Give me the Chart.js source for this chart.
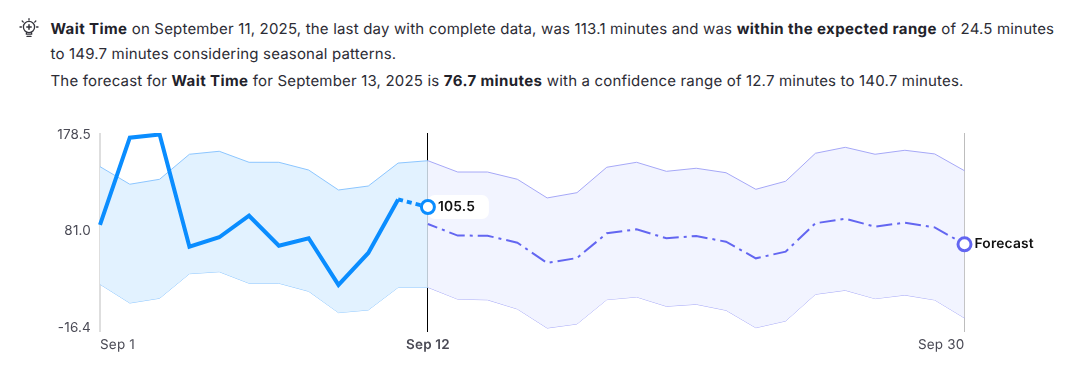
<!DOCTYPE html>
<html>
<head>
<meta charset="utf-8">
<script src="https://cdn.jsdelivr.net/npm/chart.js@4/dist/chart.umd.min.js"></script>
<style>
  html, body { margin: 0; padding: 0; background: #fff; width: 1083px; height: 384px; overflow: hidden; }
  body { position: relative; font-family: Inter, sans-serif; color: #2c2c35; font-size: 15px; letter-spacing: 0.18px; text-rendering: geometricPrecision; }
  b { font-weight: 700; color: #22222a; letter-spacing: 0.4px; }
  .line { position: absolute; left: 50.5px; white-space: nowrap; line-height: 20px; }
  #icon { position: absolute; left: 19px; top: 17px; }
  #chart { position: absolute; left: 0; top: 120px; }
</style>
</head>
<body>
<svg id="icon" width="20" height="22" viewBox="0 0 20 22" fill="none" stroke="#33333b" stroke-width="1.3" stroke-linecap="round">
  <circle cx="10" cy="10" r="5.6"/>
  <path d="M10 7.8v4.4M7.8 10h4.4" stroke-width="1.5"/>
  <path d="M10 1.6v1.4M3.2 4l1.1 1.1M16.8 4l-1.1 1.1M1 10h1.4M17.6 10H19"/>
  <path d="M7.4 15.6v1.6h5.2v-1.6M8 19.4h4"/>
</svg>
<div class="line" style="top:19px"><b>Wait Time</b> on September 11, 2025, the last day with complete data, was 113.1 minutes and was <b>within the expected range</b> of 24.5 minutes</div>
<div class="line" style="top:44px">to 149.7 minutes considering seasonal patterns.</div>
<div class="line" style="top:71px">The forecast for <b>Wait Time</b> for September 13, 2025 is <b>76.7 minutes</b> with a confidence range of 12.7 minutes to 140.7 minutes.</div>
<canvas id="chart" width="1083" height="250"></canvas>
<script>
const days = ['Sep 1','Sep 2','Sep 3','Sep 4','Sep 5','Sep 6','Sep 7','Sep 8','Sep 9','Sep 10',
  'Sep 11','Sep 12','Sep 13','Sep 14','Sep 15','Sep 16','Sep 17','Sep 18','Sep 19','Sep 20',
  'Sep 21','Sep 22','Sep 23','Sep 24','Sep 25','Sep 26','Sep 27','Sep 28','Sep 29','Sep 30']
const yTicks = [178.5, 81.0, -16.4]

const n = null
const actual = [87.4,175.3,178.5,65.5,75,96.7,66.5,74,27,59.2,113.1,105.5,
  n,n,n,n,n,n,n,n,n,n,n,n,n,n,n,n,n,n]
const actualUpper = [146.1,128.4,133.4,158.6,161.6,150.5,150.5,142.7,122.6,126.6,149.7,152.1,
  n,n,n,n,n,n,n,n,n,n,n,n,n,n,n,n,n,n]
const actualLower = [27.7,8.8,13.6,38.3,40.3,28.7,28.7,20.6,-0.9,1.8,24.5,24.5,
  n,n,n,n,n,n,n,n,n,n,n,n,n,n,n,n,n,n]
const forecast = [n,n,n,n,n,n,n,n,n,n,n,
  88.4,76.7,76.6,69.5,49.1,54.1,79,83,74,76.3,70.5,53.8,60.5,89.1,93.7,85.7,89.7,85,67.9]
const forecastUpper = [n,n,n,n,n,n,n,n,n,n,n,
  152.1,140.7,140.7,133.4,114.6,119.9,145.5,150.5,141.4,144.5,140,123.3,131.4,159.6,165.6,158.6,162.6,158.9,142]
const forecastLower = [n,n,n,n,n,n,n,n,n,n,n,
  24.6,12.7,12,2.8,-16.4,-12.3,12.2,14.9,5.5,7.5,1.5,-16.1,-9.3,17.6,21.6,13.2,16.8,11.9,-6.3]

const BLUE = '#0a8dff'
const INDIGO = '#6366f1'
const TODAY = 11
const LAST = 29

// x labels need their own alignment (left / center / right), chart.js only has one per axis
const xLabelPlugin = {
  id: 'xLabels',
  afterDraw(chart) {
    const { ctx, scales } = chart
    const y = scales.y.bottom + 13
    ctx.save()
    ctx.textRendering = 'geometricPrecision'
    ctx.textBaseline = 'middle'
    ctx.fillStyle = '#4a4a55'
    ctx.font = '13.5px Inter'
    ctx.textAlign = 'left'
    ctx.fillText(days[0], scales.x.getPixelForValue(0), y)
    ctx.textAlign = 'right'
    ctx.fillText(days[LAST], scales.x.getPixelForValue(LAST), y)
    ctx.font = '600 13.5px Inter'
    ctx.textAlign = 'center'
    ctx.fillText(days[TODAY], scales.x.getPixelForValue(TODAY), y)
    ctx.restore()
  }
}

// white pill behind the current value, has to sit under the blue line and its marker
const pillPlugin = {
  id: 'valuePill',
  beforeDatasetDraw(chart, args) {
    if (args.index !== 0) return
    const { ctx, scales } = chart
    const x = scales.x.getPixelForValue(TODAY)
    const y = scales.y.getPixelForValue(actual[TODAY])
    ctx.save()
    ctx.fillStyle = '#fff'
    ctx.beginPath()
    ctx.roundRect(x, y - 12, 61, 24, 7)
    ctx.fill()
    ctx.restore()
  },
  afterDraw(chart) {
    const { ctx, scales } = chart
    ctx.save()
    ctx.textRendering = 'geometricPrecision'
    ctx.font = '600 13.8px Inter'
    ctx.fillStyle = '#111'
    ctx.textBaseline = 'middle'
    ctx.textAlign = 'left'
    ctx.fillText(actual[TODAY].toFixed(1), scales.x.getPixelForValue(TODAY) + 10, scales.y.getPixelForValue(actual[TODAY]))
    ctx.fillText('Forecast', scales.x.getPixelForValue(LAST) + 10, scales.y.getPixelForValue(forecast[LAST]))
    ctx.restore()
  }
}

function band(data, target, border, fillColor) {
  return { data, borderColor: border, borderWidth: 1, backgroundColor: fillColor, fill: target, pointRadius: 0, tension: 0 }
}

new Chart(document.getElementById('chart'), {
  type: 'line',
  plugins: [xLabelPlugin, pillPlugin],
  data: {
    labels: days,
    datasets: [
      {
        data: actual,
        borderColor: BLUE,
        borderWidth: 4,
        backgroundColor: '#fff',
        fill: false,
        tension: 0,
        pointRadius: ctx => ctx.dataIndex === TODAY ? 6.5 : 0,
        pointBorderWidth: 3,
        pointBorderColor: BLUE,
        pointBackgroundColor: '#fff',
        segment: { borderDash: ctx => ctx.p1DataIndex === TODAY ? [5, 4] : undefined }
      },
      {
        data: forecast,
        borderColor: INDIGO,
        borderWidth: 2,
        backgroundColor: '#fff',
        borderDash: [16, 5, 3, 5],
        borderDashOffset: 6,
        fill: false,
        tension: 0,
        pointRadius: ctx => ctx.dataIndex === LAST ? 6.5 : 0,
        pointBorderWidth: 3,
        pointBorderColor: INDIGO,
        pointBackgroundColor: '#fff'
      },
      band(actualUpper, '+1', '#8cc6ff', '#e2f2ff'),
      band(actualLower, false, '#8cc6ff', '#e2f2ff'),
      band(forecastUpper, '+1', '#a6a8f7', '#f2f4ff'),
      band(forecastLower, false, '#a6a8f7', '#f2f4ff')
    ]
  },
  options: {
    responsive: false,
    animation: false,
    layout: { padding: { top: 13, right: 118.5 } },
    plugins: { legend: { display: false }, tooltip: { enabled: false } },
    scales: {
      x: {
        border: { display: false },
        grid: {
          drawTicks: false,
          color: ctx => ctx.index === 0 ? '#dedede' : ctx.index === TODAY ? '#000' : ctx.index === LAST ? '#bdbdbd' : 'transparent',
          lineWidth: ctx => ctx.index === 0 ? 2 : 1
        },
        ticks: { display: false, autoSkip: false },
        afterFit: scale => { scale.height = 38 }
      },
      y: {
        min: -20.4,
        max: 180,
        border: { display: false },
        grid: { display: false, drawTicks: false },
        afterBuildTicks: scale => { scale.ticks = yTicks.map(value => ({ value })) },
        ticks: {
          padding: 9,
          color: '#4a4a55',
          font: { family: 'Inter', size: 13.5 },
          callback: v => v.toFixed(1)
        },
        // tick label height would otherwise push the plot area down
        afterFit: scale => { scale.width = 100; scale.paddingTop = 0; scale.paddingBottom = 0 }
      }
    }
  }
})
</script>
</body>
</html>
